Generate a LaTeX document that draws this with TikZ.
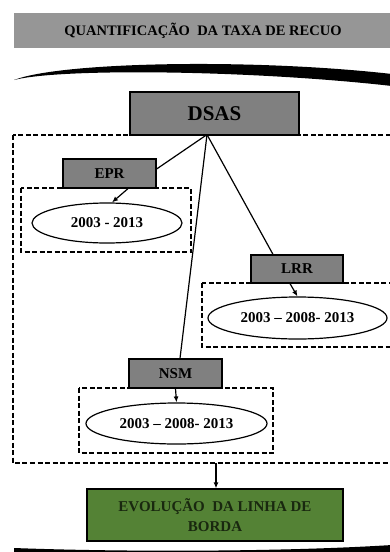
\documentclass[tikz,border=0pt]{standalone}
\usepackage{fontspec}
\setmainfont{Liberation Serif}
\usetikzlibrary{arrows.meta,shapes.geometric,calc}

\definecolor{faixa}{RGB}{150,150,150}
\definecolor{caixa}{RGB}{128,128,128}
\definecolor{verde}{RGB}{84,130,53}
\definecolor{textoverde}{RGB}{25,40,15}

\begin{document}
\begin{tikzpicture}[>={Latex[length=6pt,width=5pt]},x=1pt,y=-1pt,
	metodo/.style={draw,fill=caixa,line width=1.2pt,inner sep=0pt,
		font=\bfseries\fontsize{15}{18}\selectfont},
	periodo/.style={ellipse,draw,fill=white,line width=1.2pt,inner sep=0pt,
		font=\bfseries\fontsize{15}{18}\selectfont},
	grupo/.style={line width=1.5pt,dash pattern=on 5pt off 2.5pt},
	liga/.style={line width=1.2pt}]

\useasboundingbox (0,0) rectangle (390,552);
\clip (0,0) rectangle (390,552);

% faixa do titulo
\fill[faixa] (14,13) rectangle (392,48);
\node[font=\bfseries\fontsize{14.5}{17}\selectfont] (titulo) at (203,31)
	{QUANTIFICAÇÃO\enspace DA TAXA DE RECUO};

% arcos de cima e de baixo
\fill (14,80) .. controls (60,62) and (250,58) .. (392,74)
	-- (392,86) .. controls (250,70) and (60,68) .. (14,80) -- cycle;
\fill (14,548) .. controls (120,552) and (280,552) .. (392,545)
	-- (392,560) -- (14,560) -- cycle;

% grupos tracejados
\draw[grupo] (13,135) rectangle (395,463);
\draw[grupo] (21,188) rectangle (191,252);
\draw[grupo] (202,283) rectangle (395,347);
\draw[grupo] (79,388) rectangle (273,453);

\node[metodo,minimum width=169pt,minimum height=43pt,
	font=\bfseries\fontsize{21}{24}\selectfont] (dsas) at (214.5,113.5) {DSAS};

\node[metodo,minimum width=93pt,minimum height=29pt] (epr) at (109.5,173.5) {EPR};
\node[periodo,minimum width=150pt,minimum height=40pt] (p1) at (107,223) {2003 - 2013};

\node[metodo,minimum width=92pt,minimum height=28pt] (lrr) at (297,269) {LRR};
\node[periodo,minimum width=179pt,minimum height=42pt] (p2) at (297.5,318) {2003 -- 2008- 2013};

\node[metodo,minimum width=93pt,minimum height=29pt] (nsm) at (175.5,373.5) {NSM};
\node[periodo,minimum width=181pt,minimum height=41pt] (p3) at (176.5,423.5) {2003 -- 2008- 2013};

\node[draw,fill=verde,line width=1.2pt,minimum width=256pt,minimum height=52pt,
	align=center,text=textoverde,font=\bfseries\fontsize{15}{20}\selectfont]
	(evolucao) at (215,515) {EVOLUÇÃO\enspace DA LINHA DE\\BORDA};

% ligacoes
\coordinate (topo) at ($(dsas.south)+(-7.5,-1)$);
\draw[liga] (topo) -- ([yshift=4.5pt]epr.east);
\draw[liga] (topo) -- ([xshift=-24pt]lrr.north);
\draw[liga] (topo) -- ([xshift=4.5pt]nsm.north);

\draw[liga,->] ([xshift=18.5pt]epr.south) -- ([xshift=5pt]p1.north);
\draw[liga,->] ([xshift=-7pt]lrr.south) -- (p2.north);
\draw[liga,->] (nsm.south) -- (p3.north);

\coordinate (base) at (216,463);
\draw[liga,->] (base) -- (evolucao.north -| base);

\end{tikzpicture}
\end{document}
